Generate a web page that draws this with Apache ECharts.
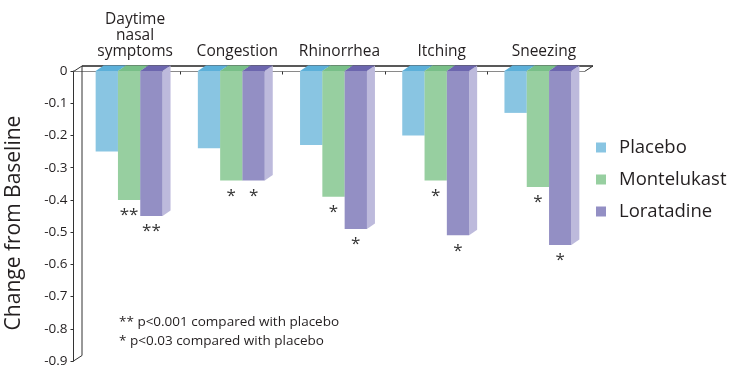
<!DOCTYPE html>
<html>
<head>
<meta charset="utf-8">
<script src="https://cdn.jsdelivr.net/npm/echarts@6.0.0/dist/echarts.min.js"></script>
<style>
  html, body { margin: 0; padding: 0; background: #fff; }
  #chart { width: 733px; height: 365px; }
</style>
</head>
<body>
<div id="chart"></div>
<script>
// Mean change from baseline in symptom scores
const categories = ['Daytime\nnasal\nsymptoms', 'Congestion', 'Rhinorrhea', 'Itching', 'Sneezing'];
const seriesNames = ['Placebo', 'Montelukast', 'Loratadine'];
const placebo = [-0.25, -0.24, -0.23, -0.20, -0.13];
const montelukast = [-0.40, -0.34, -0.39, -0.34, -0.36];
const loratadine = [-0.45, -0.34, -0.49, -0.51, -0.54];
// significance markers versus placebo
const montelukastSig = ['**', '*', '*', '*', '*'];
const loratadineSig = ['**', '*', '*', '*', '*'];
const footnotes = ['** p<0.001 compared with placebo', '* p<0.03 compared with placebo'];
const yMin = -0.9, yMax = 0, yStep = 0.1;

const FONT = '"Open Sans", sans-serif';
const TEXT = '#231f20';
const frontColors = ['#89c5e2', '#97cfa0', '#938fc4'];
const topColors = ['#5cb0d9', '#78bf88', '#6c66ae'];
const sideColors = ['#a9d5eb', '#b6ddbc', '#bdbadc'];
const BAR_W = 22.3;   // bar face width
const DX = 8;         // depth offset, horizontal
const DY = 5.5;       // depth offset, vertical

const chart = echarts.init(document.getElementById('chart'), null, { renderer: 'canvas' });

const valueSets = [placebo, montelukast, loratadine];
const sigSets = [null, montelukastSig, loratadineSig];

const barSeries = valueSets.map((vals, j) => ({
  name: seriesNames[j],
  type: 'bar',
  z: 3,
  barWidth: BAR_W,
  barGap: '0%',
  data: vals,
  itemStyle: { color: frontColors[j] },
  emphasis: { disabled: true },
  label: sigSets[j] ? {
    show: true,
    position: 'bottom',
    distance: 7,
    formatter: p => sigSets[j][p.dataIndex],
    fontSize: 17,
    fontFamily: FONT,
    color: '#333'
  } : { show: false }
}));

// Top and side faces giving each bar its depth
const depthSeries = {
  type: 'custom',
  z: 2,
  silent: true,
  encode: { x: 0, y: 1 },
  data: categories.map((c, i) => [i, placebo[i], montelukast[i], loratadine[i]]),
  renderItem(params, api) {
    const idx = api.value(0);
    const base = api.coord([idx, 0]);
    const y0 = base[1];
    const children = [];
    const xs = [0, 1, 2].map(j => base[0] - 1.5 * BAR_W + j * BAR_W);
    const ys = [1, 2, 3].map(k => api.coord([idx, api.value(k)])[1]);
    for (let j = 0; j < 3; j++) {
      const x1 = xs[j] + BAR_W;
      children.push({
        type: 'polygon',
        shape: { points: [[x1, y0], [x1 + DX, y0 - DY], [x1 + DX, ys[j] - DY], [x1, ys[j]]] },
        style: { fill: sideColors[j] }
      });
    }
    for (let j = 0; j < 3; j++) {
      const x0 = xs[j], x1 = xs[j] + BAR_W;
      children.push({
        type: 'polygon',
        shape: { points: [[x0, y0], [x1, y0], [x1 + DX, y0 - DY], [x0 + DX, y0 - DY]] },
        style: { fill: topColors[j] }
      });
    }
    return { type: 'group', children };
  }
};

// Box outline: back wall and ceiling edges of the plot
const frameSeries = {
  type: 'custom',
  z: 1,
  silent: true,
  encode: { x: 0, y: 1 },
  data: [[0, 0]],
  renderItem(params, api) {
    const cs = params.coordSys;
    const L = cs.x - 4.5, T = cs.y + 0.5, B = cs.y + cs.height, R = cs.x + cs.width - 4.5;
    const bx = DX + 0.5;
    const line = (x1, y1, x2, y2, color, w) => ({
      type: 'line',
      shape: { x1, y1, x2, y2 },
      style: { stroke: color, lineWidth: w || 1 }
    });
    const children = [
      line(L, T, R, T, '#8a8a8a'),
      line(L + bx, T - DY, R + bx, T - DY, '#222', 1.3),
      line(L, T, L + bx, T - DY, '#333'),
      line(R, T, R + bx, T - DY, '#333'),
      line(L + bx, T - DY, L + bx, B - DY, '#333'),
      line(L, B, L + bx, B - DY, '#333')
    ];
    const cw = cs.width / categories.length;
    for (let k = 1; k < categories.length; k++) {
      const x = Math.round(cs.x + k * cw) + 0.5;
      children.push(line(x, T, x, T + 3, '#333'));
    }
    return { type: 'group', children };
  }
};

chart.setOption({
  animation: false,
  backgroundColor: '#fff',
  textStyle: { fontFamily: FONT },
  grid: { left: 78, right: 144, top: 71, bottom: 4, outerBoundsMode: 'none' },
  legend: {
    data: seriesNames,
    orient: 'vertical',
    left: 591,
    top: 133,
    icon: 'rect',
    itemWidth: 10,
    itemHeight: 10,
    itemGap: 13,
    selectedMode: false,
    textStyle: { fontSize: 18.5, color: TEXT, fontFamily: FONT, padding: [0, 0, 0, 8] }
  },
  xAxis: {
    type: 'category',
    position: 'top',
    data: categories,
    axisLine: { show: false },
    axisTick: { show: false },
    axisLabel: {
      fontSize: 15.5,
      lineHeight: 16,
      color: TEXT,
      fontFamily: FONT,
      margin: 11,
      padding: [0, 0, 0, 12],
      interval: 0
    },
    splitLine: { show: false }
  },
  yAxis: {
    type: 'value',
    min: yMin,
    max: yMax,
    interval: yStep,
    offset: 4.5,
    axisLine: { show: true, lineStyle: { color: '#333', width: 1 } },
    axisTick: { show: true, length: 3, lineStyle: { color: '#333' } },
    axisLabel: { fontSize: 13.5, color: TEXT, fontFamily: FONT, margin: 6 },
    splitLine: { show: false },
    name: 'Change from Baseline',
    nameLocation: 'middle',
    nameRotate: 90,
    nameGap: 49,
    nameTextStyle: { fontSize: 21, color: TEXT, fontFamily: FONT, padding: [0, 14, 0, 0] }
  },
  graphic: [{
    type: 'text',
    left: 119,
    top: 313,
    silent: true,
    style: {
      text: footnotes.join('\n'),
      fontSize: 13.5,
      lineHeight: 18.5,
      fill: TEXT,
      fontFamily: FONT
    }
  }],
  series: [frameSeries, depthSeries].concat(barSeries)
});
</script>
</body>
</html>
